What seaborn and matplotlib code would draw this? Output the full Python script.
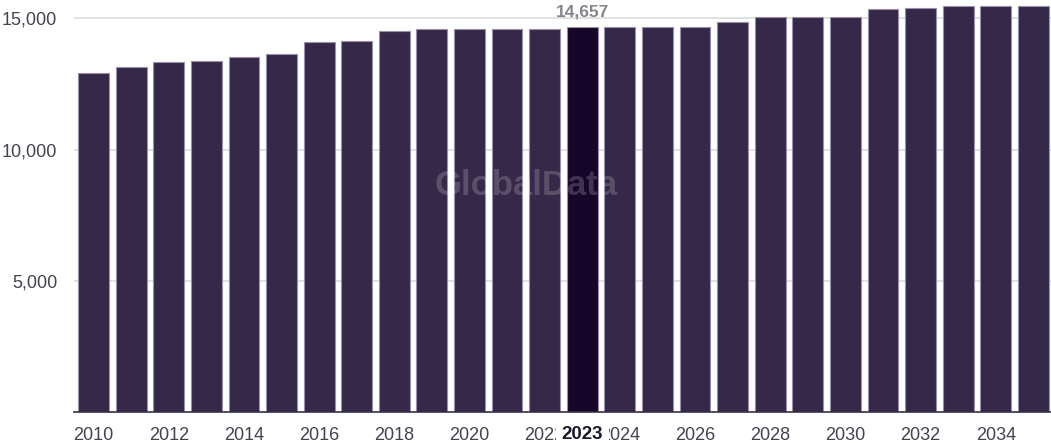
import matplotlib
matplotlib.use("Agg")
import matplotlib.pyplot as plt
import seaborn as sns
import pandas as pd

years = list(range(2010, 2036))
values = [12913, 13165, 13330, 13370, 13520, 13636, 14094, 14155, 14513, 14576,
          14613, 14613, 14613, 14657, 14657, 14657, 14657, 14880, 15050, 15050,
          15050, 15340, 15400, 15465, 15465, 15465]
highlight_year = 2023
yticks = [5000, 10000, 15000]
ytick_labels = ["5,000", "10,000", "15,000"]
xtick_years = list(range(2010, 2036, 2))

df = pd.DataFrame({"year": [str(y) for y in years], "value": values})
df["kind"] = ["hl" if y == highlight_year else "base" for y in years]

sns.set_theme(style="white")
plt.rcParams["font.family"] = ["Liberation Sans", "DejaVu Sans"]

fig = plt.figure(figsize=(10.51, 4.43), dpi=100)
ax = fig.add_axes([74 / 1051, 1 - 412 / 443, 1 - 74 / 1051, 412 / 443])

sns.barplot(data=df, x="year", y="value", hue="kind", dodge=False,
            palette={"base": "#35224f", "hl": "#150030"}, width=0.82,
            edgecolor="#9a8fb0", linewidth=0.8, legend=False, ax=ax, zorder=2)

ax.set_xlim(-0.52, 25.47)
ax.set_ylim(0, 15700)
ax.set_yticks(yticks)
ax.set_yticklabels(ytick_labels)
for y in yticks:
    ax.axhline(y, color="#dcdcdc", linewidth=1.2, zorder=0)

pos = [years.index(y) for y in xtick_years]
ax.set_xticks(pos)
ax.set_xticklabels([str(y) for y in xtick_years])
ax.tick_params(axis="x", length=0, pad=11, labelsize=13, labelcolor="#444450")
ax.tick_params(axis="y", length=0, pad=12, labelsize=13, labelcolor="#444450")
ax.set_xlabel("")
ax.set_ylabel("")
for s in ["top", "right", "left"]:
    ax.spines[s].set_visible(False)
ax.spines["bottom"].set_color("#333340")
ax.spines["bottom"].set_linewidth(1.2)
ax.spines["bottom"].set_zorder(3)

hi = years.index(highlight_year)
ax.annotate(f"{highlight_year}", xy=(hi, 0), xycoords=("data", "axes fraction"),
            xytext=(0, -16.5), textcoords="offset points", ha="center", va="center",
            fontsize=13.5, fontweight="bold", color="#1a1a2a",
            bbox=dict(boxstyle="square,pad=0.3", fc="white", ec="none"))
ax.annotate(f"{values[hi]:,}", xy=(hi, values[hi]), xytext=(0, 11),
            textcoords="offset points", ha="center", va="center",
            fontsize=12.5, fontweight="bold", color="#85858a")

ax.text(0.463, 0.55, "GlobalData", transform=ax.transAxes, ha="center", va="center",
        fontsize=25, fontweight="bold", color="white", alpha=0.18, zorder=5)

fig.savefig("out.png", dpi=100)
